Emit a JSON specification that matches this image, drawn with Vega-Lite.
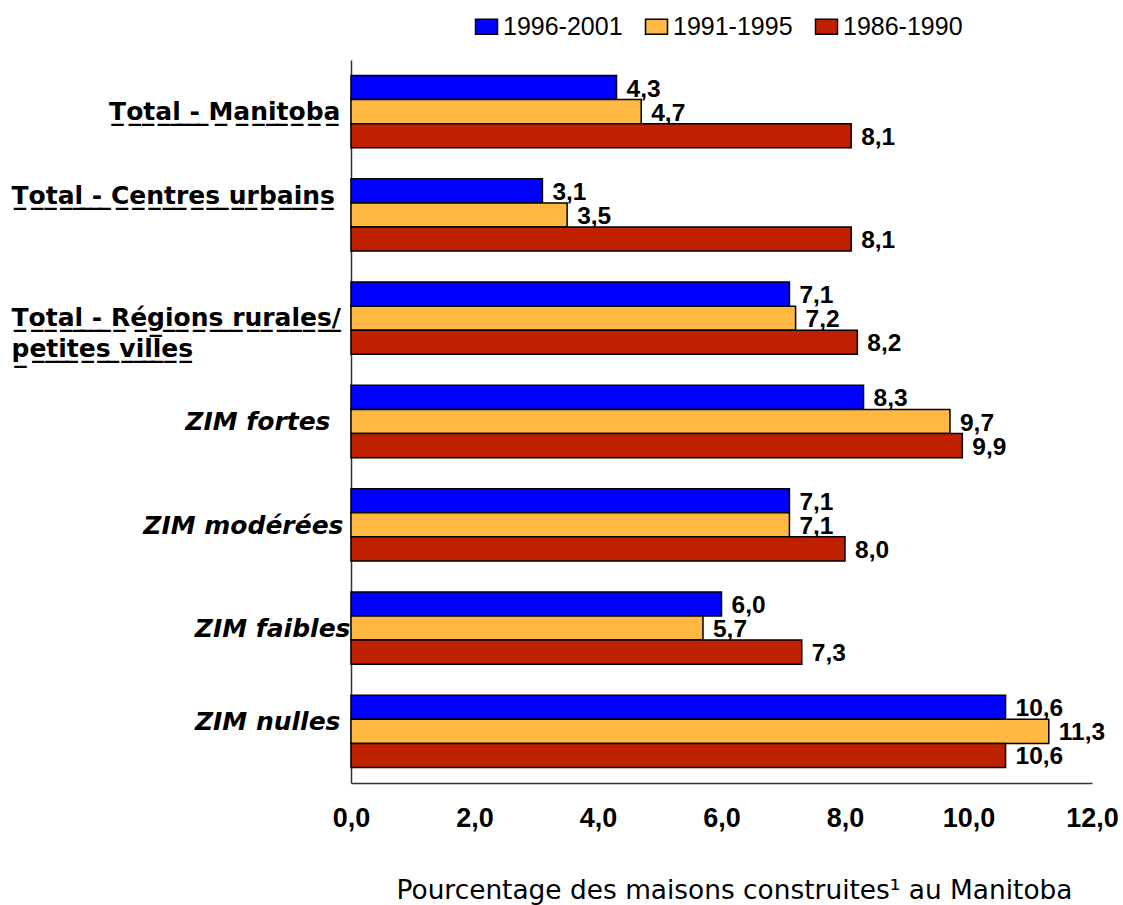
{
  "$schema": "https://vega.github.io/schema/vega-lite/v6.json",
  "width": 741,
  "height": 723,
  "autosize": {"type": "none"},
  "padding": {"left": 351, "top": 60, "right": 31, "bottom": 122},
  "background": "white",
  "config": {
    "view": {"stroke": null},
    "locale": {"number": {"decimal": ",", "thousands": " ", "grouping": [3], "currency": ["", " $"]}}
  },
  "data": {
    "values": [
      {"cat": "Total - Manitoba", "period": "1996-2001", "value": 4.3},
      {"cat": "Total - Manitoba", "period": "1991-1995", "value": 4.7},
      {"cat": "Total - Manitoba", "period": "1986-1990", "value": 8.1},
      {"cat": "Total - Centres urbains", "period": "1996-2001", "value": 3.1},
      {"cat": "Total - Centres urbains", "period": "1991-1995", "value": 3.5},
      {"cat": "Total - Centres urbains", "period": "1986-1990", "value": 8.1},
      {"cat": "Total - Régions rurales/ petites villes", "period": "1996-2001", "value": 7.1},
      {"cat": "Total - Régions rurales/ petites villes", "period": "1991-1995", "value": 7.2},
      {"cat": "Total - Régions rurales/ petites villes", "period": "1986-1990", "value": 8.2},
      {"cat": "ZIM fortes", "period": "1996-2001", "value": 8.3},
      {"cat": "ZIM fortes", "period": "1991-1995", "value": 9.7},
      {"cat": "ZIM fortes", "period": "1986-1990", "value": 9.9},
      {"cat": "ZIM modérées", "period": "1996-2001", "value": 7.1},
      {"cat": "ZIM modérées", "period": "1991-1995", "value": 7.1},
      {"cat": "ZIM modérées", "period": "1986-1990", "value": 8.0},
      {"cat": "ZIM faibles", "period": "1996-2001", "value": 6.0},
      {"cat": "ZIM faibles", "period": "1991-1995", "value": 5.7},
      {"cat": "ZIM faibles", "period": "1986-1990", "value": 7.3},
      {"cat": "ZIM nulles", "period": "1996-2001", "value": 10.6},
      {"cat": "ZIM nulles", "period": "1991-1995", "value": 11.3},
      {"cat": "ZIM nulles", "period": "1986-1990", "value": 10.6}
    ]
  },
  "encoding": {
    "y": {
      "field": "cat",
      "type": "nominal",
      "sort": ["Total - Manitoba", "Total - Centres urbains", "Total - Régions rurales/ petites villes", "ZIM fortes", "ZIM modérées", "ZIM faibles", "ZIM nulles"],
      "scale": {"paddingInner": 0.3, "paddingOuter": 0.15},
      "axis": {
        "title": null,
        "ticks": false,
        "domainColor": "#333333",
        "domainWidth": 1.5,
        "labelFont": "DejaVu Sans",
        "labelFontSize": 25,
        "labelFontWeight": "bold",
        "labelColor": "black",
        "labelLimit": 0,
        "labelLineHeight": 31,
        "labelFontStyle": {"condition": {"test": "indexof(datum.value, 'ZIM') == 0", "value": "italic"}, "value": "normal"},
        "labelAlign": {"condition": {"test": "datum.value == 'Total - Centres urbains' || datum.value == 'Total - Régions rurales/ petites villes'", "value": "left"}, "value": "right"},
        "labelPadding": {"condition": [
          {"test": "datum.value == 'Total - Centres urbains' || datum.value == 'Total - Régions rurales/ petites villes'", "value": 340},
          {"test": "datum.value == 'ZIM fortes'", "value": 21},
          {"test": "datum.value == 'ZIM modérées'", "value": 8},
          {"test": "datum.value == 'ZIM faibles'", "value": 1}
        ], "value": 11},
        "labelOffset": {"condition": [
          {"test": "datum.value == 'Total - Centres urbains'", "value": -19},
          {"test": "datum.value == 'ZIM nulles'", "value": -9},
          {"test": "datum.value == 'ZIM modérées' || datum.value == 'ZIM faibles'", "value": 1}
        ], "value": 0},
        "labelExpr": "datum.label == 'Total - Régions rurales/ petites villes' ? [replace('Total - Régions rurales/', regexp('(.)', 'g'), '$1\u0332'), replace('petites villes', regexp('(.)', 'g'), '$1\u0332')] : (indexof(datum.label, 'Total') == 0 ? replace(datum.label, regexp('(.)', 'g'), '$1\u0332') : datum.label)"
      }
    },
    "yOffset": {
      "field": "period",
      "type": "nominal",
      "sort": ["1996-2001", "1991-1995", "1986-1990"],
      "scale": {"paddingInner": 0, "paddingOuter": 0}
    },
    "x": {
      "field": "value",
      "type": "quantitative",
      "scale": {"domain": [0, 12], "nice": false},
      "axis": {
        "values": [0, 2, 4, 6, 8, 10, 12],
        "format": ".1f",
        "grid": false,
        "ticks": false,
        "labelFlush": false,
        "domainColor": "#333333",
        "domainWidth": 1.5,
        "labelFont": "Liberation Sans",
        "labelFontSize": 27,
        "labelFontWeight": "bold",
        "labelColor": "black",
        "labelPadding": 22,
        "title": "Pourcentage des maisons construites¹ au Manitoba",
        "titleFont": "DejaVu Sans",
        "titleFontSize": 26.4,
        "titleFontWeight": "normal",
        "titleColor": "black",
        "titlePadding": 46,
        "titleX": 383,
        "titleAlign": "center"
      }
    }
  },
  "layer": [
    {
      "mark": {"type": "bar", "stroke": "black", "strokeWidth": 1.5, "opacity": 1},
      "encoding": {
        "color": {
          "field": "period",
          "type": "nominal",
          "sort": ["1996-2001", "1991-1995", "1986-1990"],
          "scale": {"domain": ["1996-2001", "1991-1995", "1986-1990"], "range": ["#0000FF", "#FFB942", "#BF2100"]},
          "legend": {
            "title": null,
            "orient": "none",
            "legendX": 123,
            "legendY": -46,
            "direction": "horizontal",
            "padding": 0,
            "symbolType": "M-1,-0.68H1V0.68H-1Z",
            "symbolSize": 484,
            "symbolStrokeColor": "black",
            "symbolStrokeWidth": 1.5,
            "symbolOpacity": 1,
            "labelFont": "Liberation Sans",
            "labelFontSize": 25,
            "labelColor": "black",
            "labelOffset": 4,
            "columnPadding": 19,
            "labelLimit": 0
          }
        }
      }
    },
    {
      "mark": {"type": "text", "align": "left", "baseline": "middle", "dx": 10, "dy": 2, "font": "Liberation Sans", "fontSize": 24.5, "fontWeight": "bold", "color": "black"},
      "encoding": {
        "text": {"field": "value", "type": "quantitative", "format": ".1f"}
      }
    }
  ]
}
